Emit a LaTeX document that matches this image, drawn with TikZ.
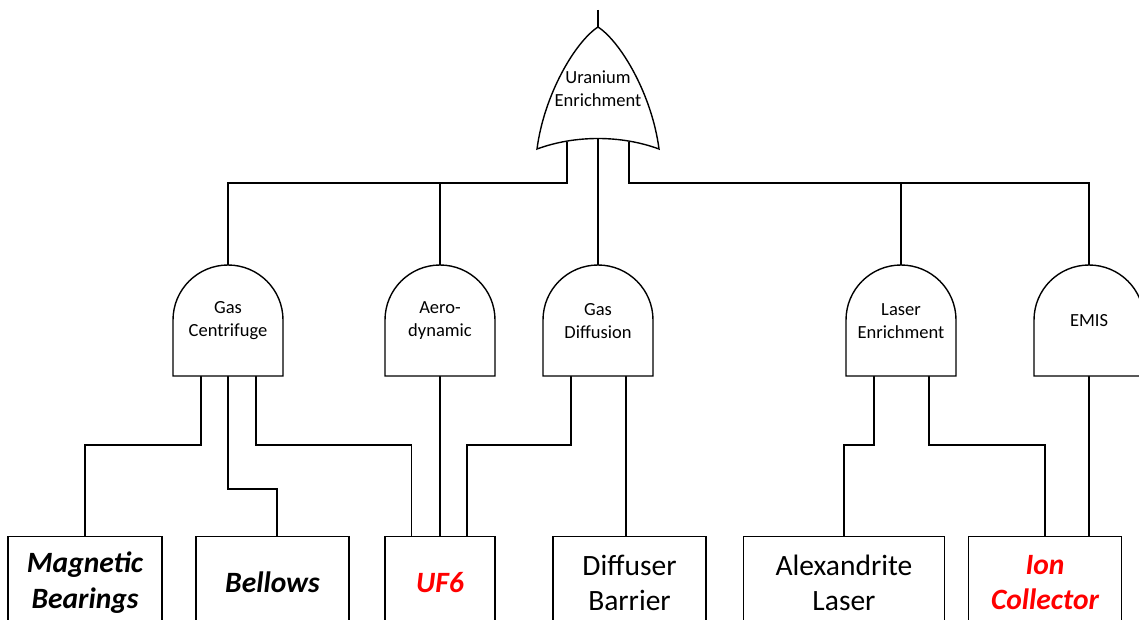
\documentclass[tikz,border=0pt]{standalone}
\usepackage{fontspec}
\setmainfont{Carlito}
\tikzset{
  wire/.style={line width=1.4pt, line join=miter},
  gatelbl/.style={align=center, font=\fontsize{18.5}{23}\selectfont, inner sep=0pt},
  gateshape/.style={line width=1.4pt, fill=white},
  basebox/.style={draw, line width=1.4pt, align=center, minimum height=92pt, inner sep=0pt, anchor=north,
    font=\fontsize{29.5}{35.5}\selectfont},
  hot/.style={text=red, font=\fontsize{29.5}{35.5}\selectfont\bfseries\itshape},
  strong/.style={font=\fontsize{29.5}{35.5}\selectfont\bfseries\itshape},
}
\newcommand\andgate[3]{%
  \draw[gateshape] (#2-55,376) -- (#2-55,320) arc[start angle=180, end angle=0, radius=55pt] -- (#2+55,376) -- cycle;
  \node[gatelbl] (#1) at (#2,321) {#3};
}
\begin{document}
\begin{tikzpicture}[x=1pt, y=-1pt]
\useasboundingbox (0,0) rectangle (1139,620);
\clip (0,0) rectangle (1139,620);

% basic events
\node[basebox, strong, minimum width=154pt] (mb) at (85,536) {Magnetic\\Bearings};
\node[basebox, strong, minimum width=153pt] (bl) at (272.5,536) {Bellows};
\node[basebox, hot, minimum width=110pt] (uf) at (440,536) {UF6};
\node[basebox, minimum width=153pt] (db) at (629.5,536) {Diffuser\\Barrier};
\node[basebox, minimum width=201pt] (al) at (844,536) {Alexandrite\\Laser};
\node[basebox, hot, minimum width=153pt] (ic) at (1045,536) {Ion\\Collector};

% coordinates of the OR gate
\coordinate (ue-in) at (598,10);
\coordinate (ue-apex) at (598,27);
\coordinate (ue-l) at (567,142);
\coordinate (ue-c) at (598,139);
\coordinate (ue-r) at (629,142);

% AND gate anchors (for connectors)
\coordinate (gc-top) at (228,265); \coordinate (gc-bot) at (228,376);
\coordinate (ad-top) at (440,265); \coordinate (ad-bot) at (440,376);
\coordinate (gd-top) at (598,265); \coordinate (gd-bot) at (598,376);
\coordinate (le-top) at (901,265); \coordinate (le-bot) at (901,376);
\coordinate (em-top) at (1089,265); \coordinate (em-bot) at (1089,376);

% connectors from the OR gate
\draw[wire] (ue-in) -- (ue-apex);
\draw[wire] (ue-l) -- ++(0,41) -| (gc-top);
\draw[wire] (ad-top) -- ++(0,-82);
\draw[wire] (ue-c) -- (gd-top);
\draw[wire] (ue-r) -- ++(0,41) -| (em-top);
\draw[wire] (le-top) -- ++(0,-82);

% connectors to the basic events
\draw[wire] ([xshift=-27pt]gc-bot) -- ++(0,69) -| (mb.north);
\draw[wire] (gc-bot) -- ++(0,113) -| ([xshift=4.5pt]bl.north);
\draw[wire] ([xshift=28pt]gc-bot) -- ++(0,69) -| ([xshift=-28.5pt]uf.north);
\draw[wire] (ad-bot) -- (uf.north);
\draw[wire] ([xshift=-27pt]gd-bot) -- ++(0,69) -| ([xshift=27pt]uf.north);
\draw[wire] ([xshift=28pt]gd-bot) -- ++(0,160);
\draw[wire] ([xshift=-27pt]le-bot) -- ++(0,69) -| (al.north);
\draw[wire] ([xshift=28pt]le-bot) -- ++(0,69) -| (ic.north);
\draw[wire] (em-bot) -- ++(0,160);

% OR gate
\draw[gateshape] (ue-apex) .. controls (575,42) and (544,95) .. (537,149)
   .. controls (575,135) and (621,135) .. (659,149)
   .. controls (652,95) and (621,42) .. (ue-apex) -- cycle;
\node[gatelbl] (ue) at (598,89) {Uranium\\Enrichment};

% AND gates
\andgate{gc}{228}{Gas\\Centrifuge}
\andgate{ad}{440}{Aero-\\dynamic}
\andgate{gd}{598}{Gas\\Diffusion}
\andgate{le}{901}{Laser\\Enrichment}
\andgate{em}{1089}{EMIS}
\end{tikzpicture}
\end{document}
